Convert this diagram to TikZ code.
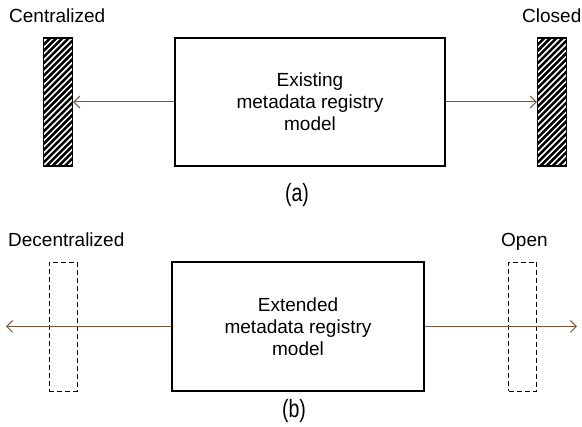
\documentclass[tikz,border=0pt]{standalone}
\usepackage{fontspec}
\setmainfont{Liberation Sans}
\usetikzlibrary{arrows.meta}
\definecolor{arrowbrown}{HTML}{7A5A3A}
\tikzset{
  lbl/.style={font=\fontsize{19}{22}\selectfont, inner sep=0pt},
  modelbox/.style={draw, line width=1.2pt, inner sep=0pt, align=center,
    font=\fontsize{19}{22}\selectfont},
  hatchbar/.style={draw, line width=1.2pt, minimum width=29pt, minimum height=128pt,
    inner sep=0pt,
    path picture={
      \foreach \k in {-8,...,26}
        \draw[line width=2.5pt]
          ([yshift=\k*6.2pt-40pt]path picture bounding box.south west) -- ++(50pt,50pt);
    }},
  dashbar/.style={draw, dashed, dash pattern=on 5pt off 3pt, line width=0.9pt,
    minimum width=28pt, minimum height=129pt, inner sep=0pt},
  link/.style={draw=arrowbrown, line width=1pt,
    -{Straight Barb[length=6pt,width=12pt,line width=1pt]}},
  caption/.style={font=\fontsize{25}{28}\selectfont, xscale=0.78, inner sep=0pt}
}
\begin{document}
\begin{tikzpicture}[x=1pt,y=-1pt]
  \useasboundingbox (0,0) rectangle (582,427);

  % (a) existing model
  \node[lbl, anchor=base west] (cent) at (9,23) {Centralized};
  \node[lbl, anchor=base west] (closed) at (522,23) {Closed};
  \node[hatchbar] (barL) at (58,102) {};
  \node[hatchbar] (barR) at (552,102) {};
  \node[modelbox, minimum width=270pt, minimum height=128pt] (boxa) at (310,102)
    {Existing\\metadata registry\\model};
  \draw[link] (boxa.west) -- (barL.east);
  \draw[link] (boxa.east) -- (barR.west);
  \node[caption] (capa) at (297,195) {(a)};

  % (b) extended model
  \node[lbl, anchor=base west] (decent) at (8,247) {Decentralized};
  \node[lbl, anchor=base west] (open) at (501,247) {Open};
  \node[dashbar] (dashL) at (63,326.5) {};
  \node[dashbar] (dashR) at (522.5,326.5) {};
  \node[modelbox, minimum width=252pt, minimum height=129pt] (boxb) at (298,326.5)
    {Extended\\metadata registry\\model};
  \coordinate (endL) at (6,326.5);
  \coordinate (endR) at (577,326.5);
  \draw[link] (boxb.west) -- (endL);
  \draw[link] (boxb.east) -- (endR);
  \node[caption] (capb) at (294,411) {(b)};
\end{tikzpicture}
\end{document}
